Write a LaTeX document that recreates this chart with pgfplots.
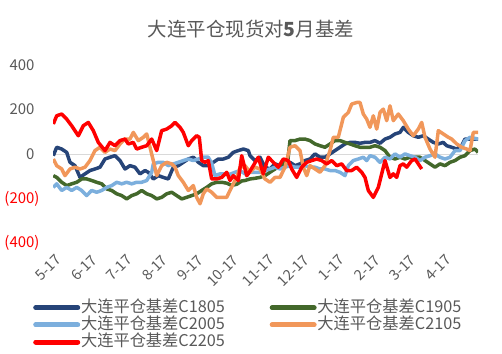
\documentclass[border=0pt]{standalone}
\usepackage{pgfplots}
\pgfplotsset{compat=1.18}
\usepackage{fontspec}
\setmainfont{Noto Sans CJK SC}
\definecolor{cA}{RGB}{38,68,120}
\definecolor{cB}{RGB}{67,104,43}
\definecolor{cC}{RGB}{124,175,221}
\definecolor{cD}{RGB}{241,151,90}
\definecolor{cE}{RGB}{255,0,0}
\definecolor{txt}{RGB}{89,89,89}
\definecolor{zl}{RGB}{217,217,217}
\begin{document}
\begin{tikzpicture}
\path[use as bounding box] (0,0) rectangle (502bp,354bp);
\node[text=txt, font=\fontsize{19.5}{21}\selectfont] at (251bp,325bp) {大连平仓现货对\textbf{5}月基差};
\begin{axis}[
  at={(53bp,111bp)}, anchor=south west,
  scale only axis, width=425bp, height=177.3bp,
  xmin=53, xmax=478, ymin=-400, ymax=400,
  axis line style={draw=none},
  major tick length=0pt,
  xtick={53,88.4,123.8,159.2,194.6,230,265.4,300.8,336.2,371.6,407,442.4},
  xticklabels={5-17,6-17,7-17,8-17,9-17,10-17,11-17,12-17,1-17,2-17,3-17,4-17},
  xticklabel style={font=\fontsize{14.5}{16}\selectfont, text=txt, yshift=-6bp, xshift=2bp, rotate=45, anchor=north east},
  ytick={-400,-200,0,200,400},
  yticklabels={\textcolor{red}{(400)},\textcolor{red}{(200)},0\phantom{)},200\phantom{)},400\phantom{)}},
  yticklabel style={font=\fontsize{15}{17}\selectfont, text=txt, xshift=-10bp},
  /pgf/number format/assume math mode=true,
  extra y ticks={0}, extra y tick labels={},
  extra y tick style={grid=major, major grid style={zl, line width=1.3bp}},
  legend columns=2,
  legend cell align=left,
  legend style={draw=none, fill=none, at={(-0.054,-0.305)}, anchor=north west,
    font=\fontsize{16.3}{18}\selectfont, text=txt,
    nodes={inner sep=0.8bp, text height=12bp, text depth=3.5bp},
    /tikz/every even column/.append style={column sep=44bp}},
  legend image code/.code={\draw[#1, line width=5bp, line cap=round] (0bp,0bp) -- (42bp,0bp);},
  every axis plot/.append style={line width=3.5bp, line join=round, mark=none},
]
\addplot[cA] coordinates {(53.3,-6)(56.7,32)(61.7,24)(66.7,9)(70,-36)(75,-51)(80,-104)(85,-88)(90,-73)(95,-66)(100,-58)(105,-21)(110,-13)(115,-6)(120,-28)(125,-66)(130,-51)(135,-58)(140,-88)(145,-73)(148.3,-81)(153.3,-111)(158.3,-96)(163.3,-104)(168.3,-111)(173.3,-58)(178.3,-51)(183.3,-36)(188.3,-21)(193.3,-13)(198.3,-36)(203.3,-51)(208.3,-51)(213.3,-36)(218.3,-21)(223.3,-21)(228.3,-13)(233.3,9)(238.3,17)(243.3,24)(248.3,17)(250,-6)(255,-28)(260,-13)(265,-58)(270,-66)(275,-43)(280,-51)(285,-51)(290,-36)(295,-51)(300,-43)(305,-28)(310,-21)(315,2)(320,-13)(325,-13)(330,2)(335,17)(340,32)(345,47)(350,54)(355,54)(360,50)(365,54)(370,54)(375,62)(380,50)(385,69)(390,77)(395,92)(400,99)(403.3,122)(408.3,99)(413.3,84)(418.3,77)(423.3,84)(428.3,69)(433.3,54)(438.3,47)(443.3,54)(446.7,39)(451.7,32)(456.7,24)(461.7,39)(465,69)(470,69)(478,69)};
\addlegendentry{大连平仓基差C1805}
\addplot[cB] coordinates {(53.3,-96)(56.7,-104)(61.7,-126)(66.7,-141)(71.7,-133)(76.7,-126)(81.7,-111)(86.7,-111)(91.7,-118)(96.7,-126)(101.7,-133)(106.7,-156)(111.7,-163)(116.7,-178)(121.7,-186)(126.7,-201)(131.7,-186)(136.7,-178)(141.7,-163)(146.7,-178)(151.7,-186)(156.7,-201)(161.7,-194)(166.7,-178)(171.7,-171)(176.7,-186)(181.7,-201)(186.7,-194)(191.7,-186)(196.7,-178)(201.7,-163)(206.7,-149)(211.7,-133)(216.7,-126)(221.7,-126)(226.7,-130)(231.7,-140)(236.7,-135)(241.7,-120)(245,-118)(250,-111)(255,-108)(260,-104)(265,-96)(270,-81)(275,-66)(280,-51)(285,-36)(288,-20)(290,62)(295,62)(300,69)(305,69)(310,62)(315,47)(320,39)(325,32)(330,47)(335,62)(340,62)(345,54)(350,47)(355,39)(360,32)(365,32)(370,32)(375,39)(380,32)(385,17)(390,-13)(395,-21)(400,-13)(405,-21)(410,-13)(415,-13)(420,-13)(425,-28)(430,-43)(435,-58)(440,-43)(445,-51)(450,-36)(455,-28)(460,-13)(465,-6)(470,17)(475,24)(478,9)};
\addlegendentry{大连平仓基差C1905}
\addplot[cC] coordinates {(53.3,-149)(56.7,-133)(61.7,-163)(66.7,-149)(71.7,-163)(76.7,-149)(81.7,-163)(86.7,-186)(91.7,-163)(96.7,-171)(101.7,-163)(106.7,-149)(111.7,-141)(116.7,-126)(121.7,-133)(126.7,-126)(131.7,-133)(136.7,-126)(141.7,-126)(146.7,-118)(151.7,-81)(153.3,-43)(158.3,-36)(163.3,-36)(168.3,-51)(173.3,-43)(178.3,-36)(183.3,-28)(188.3,-21)(193.3,-28)(198.3,-21)(203.3,-13)(208.3,-13)(211.7,-40)(215,-96)(220,-88)(225,-88)(230,-90)(235,-81)(240,-73)(245,-88)(250,-81)(255,-81)(260,-81)(265,-73)(270,-66)(275,-58)(280,-66)(285,-58)(290,-51)(295,-58)(300,-58)(305,-51)(310,-58)(315,-58)(320,-66)(325,-66)(330,-73)(335,-73)(340,-81)(345,-96)(348.3,-51)(353.3,-28)(358.3,-21)(363.3,-13)(366.7,-28)(370,-6)(375,-13)(380,-36)(385,-13)(390,-21)(395,2)(400,-13)(405,2)(410,-6)(415,-13)(420,-28)(425,-13)(430,-6)(435,2)(440,-13)(445,-21)(450,-13)(455,17)(460,17)(465,62)(470,77)(478,69)};
\addlegendentry{大连平仓基差C2005}
\addplot[cD] coordinates {(53.3,-21)(56.7,-51)(61.7,-66)(65,-96)(70,-66)(75,-58)(80,-66)(85,-58)(90,-28)(95,17)(100,32)(105,9)(110,24)(115,17)(120,47)(125,69)(130,69)(133.3,99)(138.3,62)(143.3,77)(146.7,92)(150,32)(153.3,-28)(156.7,-96)(161.7,-51)(166.7,-36)(171.7,-43)(175,-58)(178.3,-96)(183.3,-126)(188.3,-163)(193.3,-141)(196.7,-194)(200,-223)(203.3,-178)(206.7,-156)(211.7,-171)(216.7,-194)(221.7,-194)(226.7,-194)(230,-163)(233.3,-133)(236.7,-104)(240,-60)(245,-51)(250,-81)(255,-58)(260,-66)(265,-111)(270,-126)(275,-104)(280,-104)(285,-58)(290,32)(295,39)(300,17)(303.3,-58)(306.7,-96)(310,-51)(315,-66)(320,-81)(325,-51)(330,17)(333.3,77)(338.3,77)(343.3,167)(348.3,189)(351.7,227)(356.7,234)(360,234)(363.3,182)(366.7,159)(370,122)(373.3,174)(376.7,114)(380,189)(383.3,204)(386.7,152)(390,219)(393.3,152)(398.3,182)(403.3,152)(408.3,114)(413.3,84)(418.3,114)(421.7,144)(425,77)(430,24)(435,-13)(438.3,107)(443.3,92)(448.3,77)(451.7,69)(456.7,47)(461.7,32)(466.7,24)(470,17)(473.3,99)(478,99)};
\addlegendentry{大连平仓基差C2105}
\addplot[cE] coordinates {(53.3,137)(56.7,174)(61.7,182)(66.7,159)(71.7,129)(78.3,84)(83.3,129)(88.3,144)(93.3,107)(98.3,54)(105,17)(110,54)(115,39)(120,62)(125,69)(128.3,47)(133.3,54)(136.7,24)(141.7,32)(146.7,39)(151.7,69)(156.7,17)(161.7,107)(166.7,114)(171.7,129)(175,144)(180,122)(183.3,99)(188.3,39)(191.7,62)(196.7,84)(199.3,77)(201.7,-28)(205,-36)(208.3,-28)(211.7,-111)(216.7,-111)(221.7,-104)(226.7,-81)(230,-118)(233.3,-96)(238.3,-118)(241.7,-6)(246.7,-96)(248.3,-88)(253.3,-51)(258.3,-13)(263.3,-88)(268.3,-13)(273.3,-36)(278.3,-58)(283.3,-21)(288.3,-28)(291.7,-66)(296.7,-104)(301.7,-58)(306.7,-36)(311.7,-28)(316.7,-21)(321.7,-28)(326.7,-43)(331.7,-28)(336.7,-51)(341.7,-43)(346.7,-73)(351.7,-73)(356.7,-58)(361.7,-81)(365,-104)(368.3,-163)(373.3,-194)(378.3,-149)(381.7,-88)(385,-28)(390,-104)(393.3,-88)(396.7,-104)(400,-51)(403.3,-43)(406.7,-58)(411.7,-28)(415,-21)(418.3,-43)(421.7,-66)};
\addlegendentry{大连平仓基差C2205}
\end{axis}
\end{tikzpicture}
\end{document}
